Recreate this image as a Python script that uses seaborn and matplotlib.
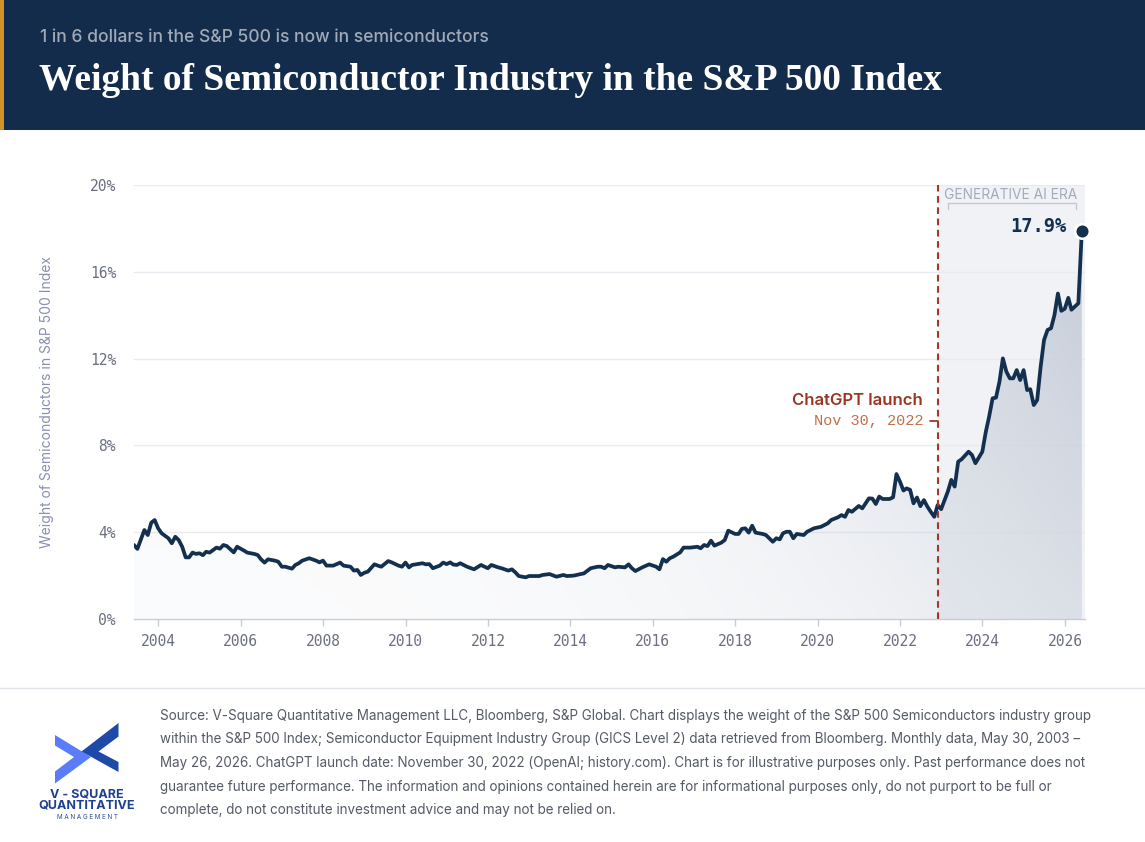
import pandas as pd
import numpy as np
import seaborn as sns
import matplotlib.pyplot as plt
import matplotlib.dates as mdates
from matplotlib.patches import Rectangle, Polygon, PathPatch
from matplotlib.ticker import FuncFormatter

# month-end readings of the semiconductor weight (% of S&P 500)
months = [
    "2003-05", "2003-06", "2003-08", "2003-09", "2003-10", "2003-11", "2003-12",
    "2004-01", "2004-03", "2004-04", "2004-05", "2004-06", "2004-07", "2004-08", "2004-09", "2004-10", "2004-11", "2004-12",
    "2005-01", "2005-02", "2005-03", "2005-05", "2005-06", "2005-07", "2005-08", "2005-10", "2005-11",
    "2006-01", "2006-02", "2006-04", "2006-05", "2006-06", "2006-07", "2006-08", "2006-10", "2006-11", "2006-12",
    "2007-01", "2007-03", "2007-04", "2007-05", "2007-06", "2007-08", "2007-10", "2007-11", "2007-12",
    "2008-01", "2008-03", "2008-05", "2008-06", "2008-08", "2008-09", "2008-10", "2008-11", "2008-12",
    "2009-01", "2009-03", "2009-04", "2009-05", "2009-07", "2009-08", "2009-10", "2009-11", "2009-12",
    "2010-01", "2010-02", "2010-05", "2010-06", "2010-07", "2010-08", "2010-10", "2010-11", "2010-12",
    "2011-01", "2011-02", "2011-03", "2011-04", "2011-06", "2011-08", "2011-10", "2011-12",
    "2012-01", "2012-03", "2012-04", "2012-06", "2012-07", "2012-08", "2012-09", "2012-11", "2012-12",
    "2013-03", "2013-04", "2013-06", "2013-08", "2013-10", "2013-11",
    "2014-01", "2014-03", "2014-04", "2014-06", "2014-08", "2014-09", "2014-10", "2014-11",
    "2015-01", "2015-02", "2015-04", "2015-05", "2015-06", "2015-07", "2015-09", "2015-11",
    "2016-01", "2016-02", "2016-03", "2016-04", "2016-05", "2016-06", "2016-08", "2016-09", "2016-11",
    "2017-01", "2017-02", "2017-03", "2017-04", "2017-05", "2017-06", "2017-08", "2017-09", "2017-10", "2017-12",
    "2018-01", "2018-02", "2018-03", "2018-04", "2018-05", "2018-06", "2018-08", "2018-09", "2018-11", "2018-12",
    "2019-01", "2019-02", "2019-03", "2019-04", "2019-05", "2019-06", "2019-08", "2019-09", "2019-11",
    "2020-01", "2020-02", "2020-03", "2020-04", "2020-06", "2020-07", "2020-08", "2020-09", "2020-10", "2020-12",
    "2021-01", "2021-03", "2021-04", "2021-05", "2021-06", "2021-07", "2021-09", "2021-10", "2021-11", "2021-12",
    "2022-01", "2022-02", "2022-03", "2022-04", "2022-05", "2022-06", "2022-07", "2022-08", "2022-09", "2022-10", "2022-11", "2022-12",
    "2023-01", "2023-02", "2023-03", "2023-04", "2023-05", "2023-06", "2023-08", "2023-09", "2023-10", "2023-12",
    "2024-01", "2024-02", "2024-03", "2024-04", "2024-05", "2024-06", "2024-07", "2024-08", "2024-09", "2024-10", "2024-11", "2024-12",
    "2025-01", "2025-02", "2025-03", "2025-04", "2025-05", "2025-06", "2025-07", "2025-08", "2025-09", "2025-10", "2025-11", "2025-12",
    "2026-01", "2026-02", "2026-03", "2026-04", "2026-05",
]
weights = [
    3.41, 3.23, 4.10, 3.87, 4.44, 4.56, 4.18,
    3.95, 3.72, 3.49, 3.79, 3.64, 3.33, 2.84, 2.84, 3.06, 3.00, 3.03,
    2.94, 3.10, 3.06, 3.29, 3.24, 3.41, 3.36, 3.07, 3.33,
    3.15, 3.06, 3.00, 2.95, 2.75, 2.60, 2.75, 2.69, 2.64, 2.41,
    2.41, 2.32, 2.49, 2.57, 2.69, 2.80, 2.69, 2.61, 2.69,
    2.46, 2.46, 2.60, 2.46, 2.41, 2.23, 2.26, 2.03, 2.13,
    2.18, 2.52, 2.46, 2.41, 2.67, 2.61, 2.46, 2.41, 2.60,
    2.38, 2.49, 2.57, 2.52, 2.53, 2.34, 2.46, 2.60, 2.53,
    2.61, 2.51, 2.49, 2.57, 2.41, 2.29, 2.49, 2.34,
    2.49, 2.38, 2.34, 2.23, 2.29, 2.15, 1.98, 1.92, 1.98,
    1.98, 2.03, 2.07, 1.95, 2.03, 1.98,
    2.00, 2.07, 2.10, 2.34, 2.41, 2.41, 2.34, 2.49,
    2.38, 2.41, 2.38, 2.52, 2.34, 2.21, 2.38, 2.52,
    2.41, 2.29, 2.76, 2.64, 2.80, 2.87, 3.07, 3.29, 3.29,
    3.33, 3.26, 3.41, 3.36, 3.61, 3.38, 3.52, 3.64, 4.07, 3.92,
    3.92, 4.15, 4.18, 3.98, 4.30, 3.98, 3.92, 3.87, 3.56, 3.72,
    3.67, 3.95, 4.02, 4.02, 3.72, 3.92, 3.87, 4.02, 4.18,
    4.25, 4.33, 4.41, 4.56, 4.69, 4.79, 4.71, 5.02, 4.94, 5.21,
    5.10, 5.56, 5.55, 5.30, 5.64, 5.53, 5.53, 5.61, 6.68, 6.33,
    5.92, 6.02, 5.95, 5.33, 5.60, 5.20, 5.48, 5.18, 4.94, 4.71, 5.25, 5.06,
    5.48, 5.87, 6.41, 6.10, 7.25, 7.36, 7.71, 7.56, 7.18, 7.71,
    8.63, 9.32, 10.17, 10.20, 10.94, 12.01, 11.40, 11.09, 11.09, 11.47, 11.01, 11.47,
    10.55, 10.59, 9.86, 10.09, 11.63, 12.86, 13.32, 13.40, 14.00, 15.00, 14.20, 14.30,
    14.80, 14.25, 14.40, 14.55, 17.90,
]
assert len(months) == len(weights)

y_ticks = [0, 4, 8, 12, 16, 20]
x_tick_years = list(range(2004, 2027, 2))
chatgpt_date = "2022-11-30"
last_label = "17.9%"

title = "Weight of Semiconductor Industry in the S&P 500 Index"
subtitle = "1 in 6 dollars in the S&P 500 is now in semiconductors"
ylabel = "Weight of Semiconductors in S&P 500 Index"
source_lines = [
    "Source: V-Square Quantitative Management LLC, Bloomberg, S&P Global. Chart displays the weight of the S&P 500 Semiconductors industry group",
    "within the S&P 500 Index; Semiconductor Equipment Industry Group (GICS Level 2) data retrieved from Bloomberg. Monthly data, May 30, 2003 \u2013",
    "May 26, 2026. ChatGPT launch date: November 30, 2022 (OpenAI; history.com). Chart is for illustrative purposes only. Past performance does not",
    "guarantee future performance. The information and opinions contained herein are for informational purposes only, do not purport to be full or",
    "complete, do not constitute investment advice and may not be relied on.",
]

NAVY = "#14304f"
BRICK = "#a3392a"

df = pd.DataFrame({"date": pd.to_datetime(months) + pd.offsets.MonthEnd(0), "weight": weights})

sns.set_theme(style="white")
plt.rcParams["font.family"] = ["Inter", "DejaVu Sans"]

W, H = 1145, 842
fig = plt.figure(figsize=(W / 100, H / 100), dpi=100)
fig.patch.set_facecolor("white")


def fx(px):
    return px / W


def fy(py):
    return 1 - py / H


# header band
fig.patches.append(Rectangle((0, fy(130)), 1, 130 / H, transform=fig.transFigure,
                             facecolor="#142c4c", edgecolor="none", zorder=0))
fig.patches.append(Rectangle((0, fy(130)), 4 / W, 130 / H, transform=fig.transFigure,
                             facecolor="#d4912a", edgecolor="none", zorder=1))
fig.text(fx(40), fy(37), subtitle, color="#a0a9b7", fontsize=12.6, fontweight="medium",
         va="center", ha="left")
fig.text(fx(39), fy(80), title, color="white", fontsize=27, fontweight="bold",
         family=["Liberation Serif", "DejaVu Serif"], va="center", ha="left")

# chart
ax = fig.add_axes([fx(134), fy(619), fx(1085) - fx(134), (619 - 185) / H])
ax.set_facecolor("white")

x_left = pd.Timestamp("2003-05-31")
x_right = pd.Timestamp("2026-06-28")
launch = pd.Timestamp(chatgpt_date)

# generative AI era shading
ax.axvspan(launch, x_right, color="#f0f2f5", zorder=0, lw=0)

for yv in y_ticks[1:]:
    ax.axhline(yv, color="#e9ebf1", lw=1, zorder=1)

# gradient area under the line
poly = ax.fill_between(df["date"], df["weight"], 0, color="none", lw=0)
path = poly.get_paths()[0]
clip = PathPatch(path, transform=ax.transData, facecolor="none", edgecolor="none")
ax.add_patch(clip)
nx, ny = 300, 100
gx = np.linspace(0, 1, nx)
gy = np.linspace(0, 1, ny)[:, None]
alpha = (0.06 + 0.94 * gx ** 3.0) * (0.45 + 0.55 * gy)
alpha = np.clip(alpha + 0.05, 0, 1)
rgba = np.zeros((ny, nx, 4))
rgba[..., 0] = 198 / 255
rgba[..., 1] = 205 / 255
rgba[..., 2] = 217 / 255
rgba[..., 3] = alpha
x0n, x1n = mdates.date2num(x_left), mdates.date2num(x_right)
im = ax.imshow(rgba, extent=[x0n, x1n, 0, 20], origin="lower", aspect="auto", zorder=2,
               interpolation="bilinear")
im.set_clip_path(clip)

sns.lineplot(data=df, x="date", y="weight", ax=ax, color=NAVY, lw=2.7, zorder=4)

# ChatGPT marker
ax.axvline(launch, color=BRICK, lw=1.5, ls=(0, (3.2, 2.2)), zorder=5)

last = df.iloc[-1]
ax.scatter([last["date"]], [last["weight"]], s=110, color=NAVY, edgecolor="white",
           linewidth=1.8, zorder=6, clip_on=False)

ax.set_xlim(x_left, x_right)
ax.set_ylim(0, 20)
ax.set_yticks(y_ticks)
ax.yaxis.set_major_formatter(FuncFormatter(lambda v, p: f"{v:.0f}%"))
ax.set_xticks([pd.Timestamp(f"{y}-01-01") for y in x_tick_years])
ax.xaxis.set_major_formatter(mdates.DateFormatter("%Y"))
for lab in ax.get_xticklabels() + ax.get_yticklabels():
    lab.set_family(["DejaVu Sans Mono"])
    lab.set_fontsize(10.5)
    lab.set_color("#6b6f80")
ax.tick_params(axis="y", length=0, pad=13)
ax.tick_params(axis="x", length=5, width=1, color="#c9ccd6", pad=6, direction="out", bottom=True)
for side in ["top", "right", "left"]:
    ax.spines[side].set_visible(False)
ax.spines["bottom"].set_color("#c9ccd6")
ax.spines["bottom"].set_linewidth(1)
ax.set_xlabel("")
ax.set_ylabel("")
fig.text(fx(47), fy(402), ylabel, rotation=90, color="#8a8eb3", fontsize=10,
         ha="center", va="center")

# annotations
ax.annotate("ChatGPT launch", xy=(fx(923), fy(401)), xycoords="figure fraction",
            ha="right", va="center", fontsize=12, color="#9b3421", fontweight="semibold")
ax.annotate("Nov 30, 2022", xy=(fx(923), fy(421)), xycoords="figure fraction",
            ha="right", va="center", fontsize=11, color="#c0704a",
            family=["Liberation Mono", "DejaVu Sans Mono"])
fig.add_artist(plt.Line2D([fx(930), fx(938)], [fy(421), fy(421)], color=BRICK, lw=1.3))

fig.text(fx(1010.5), fy(195), "GENERATIVE AI ERA", color="#a3abba", fontsize=9.9,
         ha="center", va="center")
fig.add_artist(plt.Line2D([fx(948), fx(948), fx(1076), fx(1076)],
                          [fy(209), fy(203), fy(203), fy(209)], color="#c3c8d2", lw=1))
fig.text(fx(1067), fy(226), last_label, color=NAVY, fontsize=13.5, fontweight="bold",
         family=["DejaVu Sans Mono"], ha="right", va="center")

# footer
fig.add_artist(plt.Line2D([0, 1], [fy(688), fy(688)], color="#e3e5ea", lw=1))
for i, line in enumerate(source_lines):
    fig.text(fx(160), fy(716 + i * 23.5), line, color="#555a66", fontsize=9.7,
             ha="left", va="center")

# logo
light = [(55, 735), (91, 757), (55, 783.5), (55, 771.5), (74, 757), (55, 745.5)]
dark = [(118.5, 723), (118.5, 736.5), (98.5, 751.5), (118.5, 762), (118.5, 772), (81.5, 751.5)]
for pts, col in [(light, "#5a7cf6"), (dark, "#1d4aa8")]:
    fig.patches.append(Polygon([(fx(a), fy(b)) for a, b in pts], closed=True,
                               transform=fig.transFigure, facecolor=col, edgecolor="none"))
fig.text(fx(87), fy(794), "V - SQUARE", color="#1d3f8f", fontsize=9, fontweight="bold",
         ha="center", va="center")
fig.text(fx(87), fy(805.5), "QUANTITATIVE", color="#1d3f8f", fontsize=9, fontweight="bold",
         ha="center", va="center")
fig.text(fx(87), fy(817), "M A N A G E M E N T", color="#2a4a9a", fontsize=4.5,
         ha="center", va="center")

fig.savefig("out.png", dpi=100, facecolor="white")
